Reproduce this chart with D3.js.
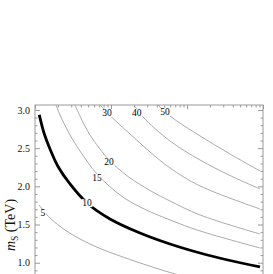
<!DOCTYPE html>
<html>
<head>
<meta charset="utf-8">
<script src="https://cdn.jsdelivr.net/npm/d3@7"></script>
<style>
  body { margin: 0; background: #fff; overflow: hidden; }
  text { font-family: "Liberation Serif", "Times New Roman", serif; }
</style>
</head>
<body>
<script>
// contour levels and their curves (x on log axis, m_S in TeV)
const levels = [5, 10, 15, 20, 30, 40, 50];
const curve5  = [[1.13,1.756],[1.575,1.586],[2.481,1.429],[3.907,1.311],[7.166,1.186],[13.13,1.088],[24.07,0.997],[59.75,0.872],[148.3,0.761],[912.9,0.565]];
const curve10 = [[1.139,2.935],[1.313,2.699],[1.575,2.489],[2.008,2.260],[2.886,2.031],[4.833,1.782],[9.701,1.573],[24.07,1.389],[59.75,1.245],[148.3,1.127],[367.9,1.029],[912.9,0.944]];
const curve15 = [[1.889,3.065],[2.133,2.935],[2.886,2.673],[3.907,2.463],[6.541,2.162],[13.13,1.887],[24.07,1.730],[59.75,1.560],[148.3,1.416],[912.9,1.193]];
const curve20 = [[3.36,3.065],[3.907,2.921],[5.29,2.673],[9.412,2.345],[13.13,2.214],[17.78,2.110],[32.6,1.946],[59.75,1.808],[148.3,1.625],[912.9,1.376]];
const curve30 = [[7.166,3.065],[9.701,2.928],[13.13,2.804],[17.78,2.686],[32.6,2.450],[59.75,2.241],[148.3,2.005],[912.9,1.704]];
const curve40 = [[20.07,3.065],[26.37,2.908],[59.75,2.594],[148.3,2.345],[367.9,2.142],[912.9,1.966]];
const curve50 = [[41.53,3.065],[59.75,2.921],[148.3,2.660],[367.9,2.424],[912.9,2.201]];
const curves = [curve5, curve10, curve15, curve20, curve30, curve40, curve50];
// where each level's label sits
const labelPos = [[1.27,1.651],[4.83,1.78],[6.55,2.109],[9.39,2.319],[8.86,2.961],[21.9,2.961],[51.4,2.974]];

const yMajor = [1.0, 1.5, 2.0, 2.5, 3.0];
const yMinor = d3.range(6, 31).map(d => d / 10).filter(d => !yMajor.includes(d));
const xMajor = [1, 10, 100, 1000];
const xMinor = [2,3,4,5,6,7,8,9,20,30,40,50,60,70,80,90,200,300,400,500,600,700,800,900];

const W = 273, H = 274;
const svg = d3.select("body").append("svg").attr("width", W).attr("height", H);

const x = d3.scaleLog().domain([1, 1000]).range([35, 263]);
const y = d3.scaleLinear().domain([0.5, 3.065]).range([300.9, 105]);

svg.append("clipPath").attr("id", "plot")
  .append("rect")
  .attr("x", x.range()[0]).attr("y", y.range()[1])
  .attr("width", x.range()[1] - x.range()[0])
  .attr("height", y.range()[0] - y.range()[1]);

const line = d3.line()
  .x(d => x(d[0])).y(d => y(d[1]))
  .curve(d3.curveCatmullRom.alpha(0.5));

const g = svg.append("g").attr("clip-path", "url(#plot)");
g.selectAll("path.c")
  .data(curves)
  .enter().append("path")
  .attr("class", "c")
  .attr("d", line)
  .attr("fill", "none")
  .attr("stroke", (d, i) => levels[i] === 10 ? "#000" : "#aaa")
  .attr("stroke-width", (d, i) => levels[i] === 10 ? 2.8 : 1);

// contour labels
const lab = g.selectAll("g.lab").data(levels).enter().append("g")
  .attr("class", "lab")
  .attr("transform", (d, i) => `translate(${x(labelPos[i][0])},${y(labelPos[i][1])})`);
lab.append("rect")
  .attr("x", d => d < 10 ? -3 : -5.5).attr("y", -4)
  .attr("width", d => d < 10 ? 6 : 11).attr("height", 8)
  .attr("fill", "#fff");
lab.append("text")
  .attr("text-anchor", "middle").attr("dy", "0.35em")
  .attr("font-size", 9.5).attr("fill", "#000")
  .text(d => d);

// frame
svg.append("rect")
  .attr("x", x.range()[0]).attr("y", y.range()[1])
  .attr("width", x.range()[1] - x.range()[0])
  .attr("height", y.range()[0] - y.range()[1])
  .attr("fill", "none").attr("stroke", "#999").attr("stroke-width", 1);

function styleAxis(sel) {
  sel.select(".domain").remove();
  sel.selectAll("line").attr("stroke", "#999");
}

svg.append("g").attr("transform", `translate(${x.range()[0]},0)`)
  .call(d3.axisLeft(y).tickValues(yMajor).tickSize(-5).tickPadding(5).tickFormat(d3.format(".1f")))
  .call(styleAxis)
  .call(s => s.selectAll("text").attr("font-size", 10).attr("fill", "#111")
    .attr("font-family", "Liberation Serif, serif"));
svg.append("g").attr("transform", `translate(${x.range()[0]},0)`)
  .call(d3.axisLeft(y).tickValues(yMinor).tickSize(-2.5).tickFormat(""))
  .call(styleAxis);
svg.append("g").attr("transform", `translate(${x.range()[1]},0)`)
  .call(d3.axisRight(y).tickValues(yMajor).tickSize(-5).tickFormat(""))
  .call(styleAxis);
svg.append("g").attr("transform", `translate(${x.range()[1]},0)`)
  .call(d3.axisRight(y).tickValues(yMinor).tickSize(-2.5).tickFormat(""))
  .call(styleAxis);
svg.append("g").attr("transform", `translate(0,${y.range()[1]})`)
  .call(d3.axisTop(x).tickValues(xMajor).tickSize(-4).tickFormat(""))
  .call(styleAxis);
svg.append("g").attr("transform", `translate(0,${y.range()[1]})`)
  .call(d3.axisTop(x).tickValues(xMinor).tickSize(-2.5).tickFormat(""))
  .call(styleAxis);

// y axis title
const title = svg.append("text")
  .attr("transform", "translate(15,225) rotate(-90)")
  .attr("text-anchor", "middle")
  .attr("font-size", 14).attr("fill", "#111");
title.append("tspan").attr("font-style", "italic").text("m");
title.append("tspan").attr("font-size", 9.5).attr("dy", 3).text("S");
title.append("tspan").attr("dy", -3).text(" (TeV)");
</script>
</body>
</html>
